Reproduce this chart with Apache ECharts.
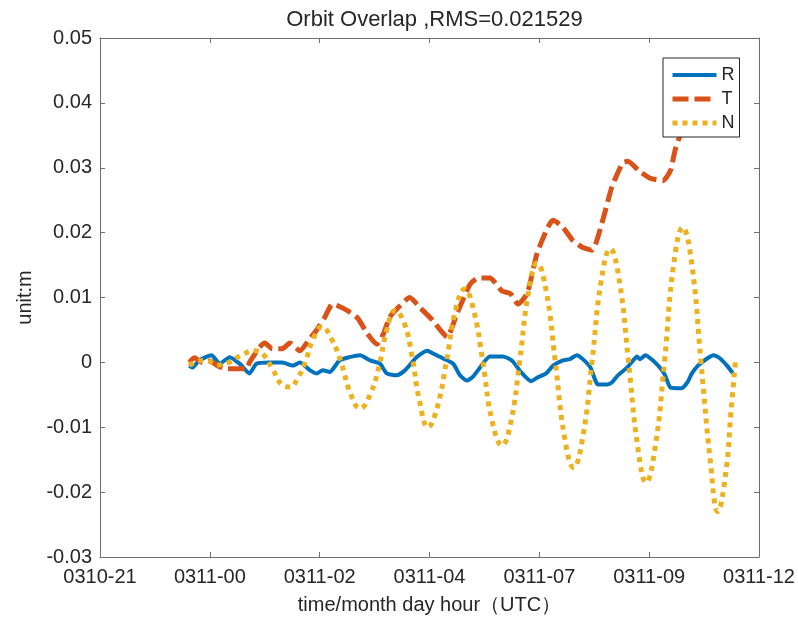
<!DOCTYPE html>
<html>
<head>
<meta charset="utf-8">
<script src="https://cdn.jsdelivr.net/npm/echarts@6/dist/echarts.min.js"></script>
<style>
  html, body { margin: 0; padding: 0; background: #fff; }
  #chart { width: 798px; height: 620px; }
</style>
</head>
<body>
<div id="chart"></div>
<script>
// Time axis is in minutes from 0311-00:00 UTC; ticks every 2.4 h (144 min).
const xTickLabels = ['0310-21', '0311-00', '0311-02', '0311-04', '0311-07', '0311-09', '0311-12'];
const xMin = -144, xMax = 720, xStep = 144;

// Radial component (m)
const rMinutes = [-27, -23, -14, 2, 13, 26, 39, 52, 61, 78, 95, 109, 118, 131, 140, 148, 157, 170, 183, 197,
  210, 223, 232, 245, 256, 271, 285, 292, 306, 319, 328, 337, 345, 358, 367, 384, 396, 408, 421, 430,
  441, 450, 463, 472, 481, 489, 499, 509, 521, 527, 535, 547, 555, 560, 564, 571, 581, 590, 597, 604,
  618, 626, 632, 640, 652, 660, 669, 678, 686];
const rValues = [-0.0005, -0.0008, 0.0003, 0.0011, -0.0002, 0.0008, -0.0002, -0.0017, -0.0002, 0.0000,
  0.0000, -0.0005, 0.0000, -0.0012, -0.0017, -0.0012, -0.0015, 0.0003, 0.0008, 0.0011,
  0.0003, -0.0002, -0.0017, -0.0020, -0.0012, 0.0008, 0.0018, 0.0014, 0.0006, -0.0002,
  -0.0020, -0.0028, -0.0022, -0.0002, 0.0009, 0.0009, 0.0003, -0.0015, -0.0029, -0.0023,
  -0.0017, -0.0005, 0.0003, 0.0005, 0.0011, 0.0005, -0.0008, -0.0034, -0.0034, -0.0031,
  -0.0020, -0.0008, 0.0003, 0.0009, 0.0005, 0.0011, 0.0003, -0.0008, -0.0020, -0.0039,
  -0.0040, -0.0031, -0.0017, -0.0005, 0.0006, 0.0011, 0.0006, -0.0005, -0.0017];

// Along-track component (m)
const tMinutes = [-27, -20, -10, 0, 10, 22, 48, 52, 65, 72, 82, 95, 105, 118, 130, 140, 150, 161, 172, 180,
  194, 206, 219, 228, 236, 250, 262, 275, 292, 302, 311, 324, 341, 352, 367, 383, 394, 404, 416, 429,
  443, 450, 463, 476, 489, 501, 516, 527, 541, 548, 562, 577, 594, 604, 610, 620, 635, 650, 665, 680, 689];
const tValues = [0.0000, 0.0007, 0.0000, 0.0002, -0.0005, -0.0010, -0.0010, 0.0000, 0.0023, 0.0030,
  0.0021, 0.0021, 0.0030, 0.0018, 0.0035, 0.0050, 0.0068, 0.0090, 0.0085, 0.0080,
  0.0068, 0.0045, 0.0028, 0.0045, 0.0070, 0.0088, 0.0100, 0.0085, 0.0065, 0.0050,
  0.0039, 0.0075, 0.0120, 0.0130, 0.0130, 0.0110, 0.0106, 0.0090, 0.0106, 0.0168,
  0.0208, 0.0219, 0.0208, 0.0188, 0.0177, 0.0173, 0.0223, 0.0270, 0.0307, 0.0310,
  0.0296, 0.0284, 0.0280, 0.0296, 0.0327, 0.0360, 0.0385, 0.0400, 0.0410, 0.0425, 0.0430];

// Cross-track component (m)
const nMinutes = [-27, -15, -5, 10, 25, 40, 58, 70, 82, 95, 105, 115, 125, 135, 147, 160, 172, 185, 197, 210,
  222, 232, 243, 255, 265, 275, 286, 298, 310, 322, 334, 346, 358, 370, 383, 395, 406, 418, 429, 441,
  453, 465, 477, 489, 501, 513, 525, 537, 549, 561, 572, 584, 596, 608, 620, 632, 644, 656, 666, 677, 683, 689];
const nValues = [-0.0005, 0.0002, 0.0003, -0.0004, 0.0000, 0.0010, 0.0018, 0.0012, -0.0010, -0.0035,
  -0.0038, -0.0025, 0.0000, 0.0035, 0.0055, 0.0035, 0.0000, -0.0050, -0.0071, -0.0050,
  -0.0005, 0.0050, 0.0080, 0.0060, 0.0010, -0.0060, -0.0100, -0.0070, 0.0000, 0.0080,
  0.0113, 0.0080, 0.0000, -0.0090, -0.0128, -0.0090, 0.0000, 0.0110, 0.0153, 0.0110,
  0.0000, -0.0115, -0.0162, -0.0115, 0.0000, 0.0125, 0.0175, 0.0125, 0.0000, -0.0130,
  -0.0185, -0.0130, 0.0000, 0.0150, 0.0208, 0.0150, 0.0000, -0.0150, -0.0230, -0.0165, -0.0080, 0.0000];

const FONT = "'Liberation Sans', Arial, Helvetica, sans-serif";
const TEXT = '#262626';
const AXIS = '#6e6e6e';
const COLORS = { R: '#0072BD', T: '#D95319', N: '#EDB120' };

const pairs = (xs, ys) => xs.map((x, i) => [x, ys[i]]);
const tickLabel = v => xTickLabels[Math.round((v - xMin) / xStep)] || '';

const boxAxis = {
  axisLine: { show: true, onZero: false, lineStyle: { color: AXIS, width: 1 } },
  axisTick: { show: true, inside: true, length: 5, lineStyle: { color: AXIS, width: 1 } },
  splitLine: { show: false }
};

const chart = echarts.init(document.getElementById('chart'), null, { renderer: 'canvas' });
chart.setOption({
  animation: false,
  backgroundColor: '#ffffff',
  title: {
    text: 'Orbit Overlap ,RMS=0.021529',
    left: 429.5,
    textAlign: 'center',
    top: 4,
    textStyle: { fontFamily: FONT, fontSize: 22, fontWeight: 'normal', color: TEXT }
  },
  grid: { left: 100, right: 39, top: 38, bottom: 63, containLabel: false },
  legend: {
    orient: 'vertical',
    left: 663,
    top: 58,
    padding: [8, 5, 5, 7],
    itemWidth: 44,
    itemHeight: 10,
    itemGap: 6,
    backgroundColor: '#ffffff',
    borderColor: '#262626',
    borderWidth: 1,
    borderRadius: 0,
    itemStyle: { opacity: 0, borderWidth: 0 },
    lineStyle: { width: 'inherit', type: 'inherit', cap: 'butt' },
    textStyle: { fontFamily: FONT, fontSize: 18, color: TEXT, lineHeight: 18 },
    data: ['R', 'T', 'N']
  },
  xAxis: [
    Object.assign({
      type: 'value', position: 'bottom', min: xMin, max: xMax, interval: xStep,
      name: 'time/month day hour（UTC）', nameLocation: 'middle', nameGap: 38,
      nameTextStyle: { fontFamily: FONT, fontSize: 20, color: TEXT },
      axisLabel: { formatter: tickLabel, fontFamily: FONT, fontSize: 20, color: TEXT, margin: 10 }
    }, boxAxis),
    Object.assign({
      type: 'value', position: 'top', min: xMin, max: xMax, interval: xStep,
      axisLabel: { show: false }
    }, boxAxis)
  ],
  yAxis: [
    Object.assign({
      type: 'value', position: 'left', min: -0.03, max: 0.05, interval: 0.01,
      name: 'unit:m', nameLocation: 'middle', nameGap: 60,
      nameTextStyle: { fontFamily: FONT, fontSize: 20, color: TEXT },
      axisLabel: {
        formatter: v => (Math.abs(v) < 1e-9 ? '0' : v.toFixed(2)),
        fontFamily: FONT, fontSize: 20, color: TEXT, margin: 8
      }
    }, boxAxis),
    Object.assign({
      type: 'value', position: 'right', min: -0.03, max: 0.05, interval: 0.01,
      axisLabel: { show: false }
    }, boxAxis)
  ],
  series: [
    {
      name: 'R', type: 'line', xAxisIndex: 0, yAxisIndex: 0,
      data: pairs(rMinutes, rValues),
      showSymbol: false, symbol: 'none', smooth: 0.2,
      lineStyle: { color: COLORS.R, width: 4, type: 'solid' },
      itemStyle: { color: COLORS.R }
    },
    {
      name: 'T', type: 'line', xAxisIndex: 0, yAxisIndex: 0,
      data: pairs(tMinutes, tValues),
      showSymbol: false, symbol: 'none', smooth: 0.2,
      lineStyle: { color: COLORS.T, width: 5, type: [16, 6], cap: 'butt' },
      itemStyle: { color: COLORS.T }
    },
    {
      name: 'N', type: 'line', xAxisIndex: 0, yAxisIndex: 0,
      data: pairs(nMinutes, nValues),
      showSymbol: false, symbol: 'none', smooth: 0.45,
      lineStyle: { color: COLORS.N, width: 5, type: [5, 5], cap: 'butt' },
      itemStyle: { color: COLORS.N }
    }
  ]
});
</script>
</body>
</html>
